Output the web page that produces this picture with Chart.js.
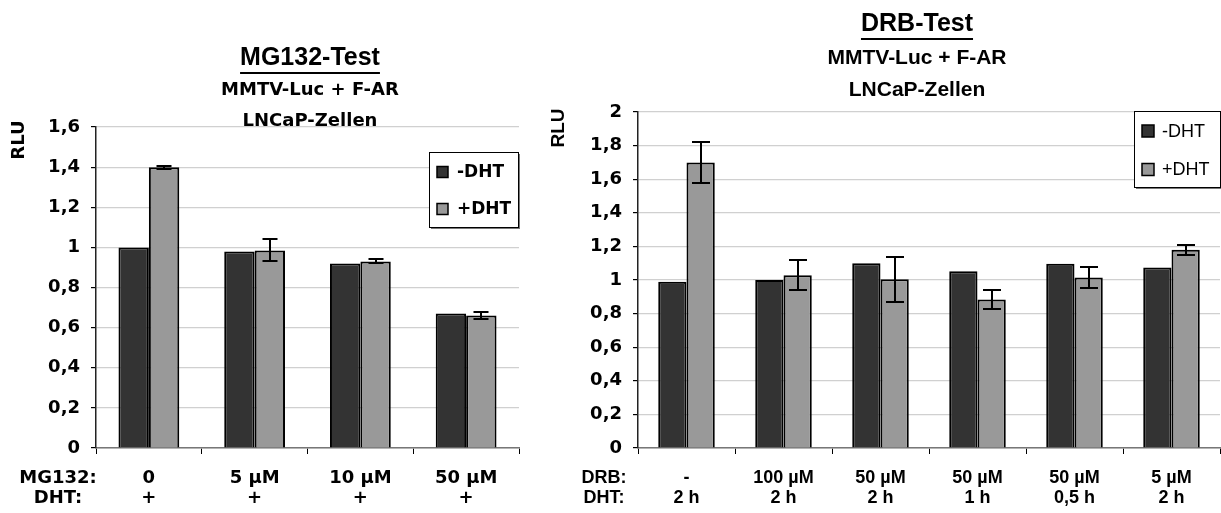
<!DOCTYPE html>
<html><head><meta charset="utf-8">
<script src="https://cdn.jsdelivr.net/npm/chart.js@4.4.1/dist/chart.umd.min.js"></script>
<style>
html,body{margin:0;padding:0;background:#fff;overflow:hidden}
#wrap{position:relative;width:1221px;height:513px}
#c1{position:absolute;left:0;top:0}
#c2{position:absolute;left:530px;top:0}
</style></head><body>
<div id="wrap">
<canvas id="c1" width="530" height="513"></canvas>
<canvas id="c2" width="691" height="513"></canvas>
</div>
<script>
// ---------- data ----------
const seriesNames = ['-DHT', '+DHT'];

const mgDose = ['0', '5 µM', '10 µM', '50 µM'];
const mgDht = ['+', '+', '+', '+'];
const mgMinus = [1.00, 0.98, 0.92, 0.67];
const mgPlus = [1.40, 0.985, 0.93, 0.66];
const mgPlusErr = [0.008, 0.055, 0.01, 0.018];
const mgRowHeads = ['MG132:', 'DHT:'];
const mgTitle = 'MG132-Test';
const mgSub = ['MMTV-Luc + F-AR', 'LNCaP-Zellen'];
const mgYMax = 1.6;

const drbDose = ['-', '100 µM', '50 µM', '50 µM', '50 µM', '5 µM'];
const drbDht = ['2 h', '2 h', '2 h', '1 h', '0,5 h', '2 h'];
const drbMinus = [0.99, 1.00, 1.10, 1.052, 1.097, 1.075];
const drbPlus = [1.70, 1.028, 1.004, 0.884, 1.015, 1.18];
const drbPlusErr = [0.12, 0.09, 0.132, 0.054, 0.062, 0.03];
const drbRowHeads = ['DRB:', 'DHT:'];
const drbTitle = 'DRB-Test';
const drbSub = ['MMTV-Luc + F-AR', 'LNCaP-Zellen'];
const drbYMax = 2;

const yTitle = 'RLU';
const yStep = 0.2;

// ---------- styling ----------
const ARIAL = "'Liberation Sans', Arial, Helvetica, sans-serif";
const WIDE = "'DejaVu Sans', Verdana, sans-serif";
const DARK = '#333333';
const LIGHT = '#999999';

function fmt(v) { return String(Math.round(v * 10) / 10).replace('.', ','); }

function annotPlugin(s) {
  return {
    id: 'annot',
    afterDatasetsDraw(chart) {
      const ctx = chart.ctx;
      const y = chart.scales.y;
      const meta = chart.getDatasetMeta(1);
      ctx.save();
      ctx.strokeStyle = '#000';
      ctx.lineWidth = 2;
      meta.data.forEach((bar, i) => {
        const v = chart.data.datasets[1].data[i];
        const e = chart.data.datasets[1].errors[i];
        const yt = Math.round(y.getPixelForValue(v + e)), yb = Math.round(y.getPixelForValue(v - e));
        const x = Math.round(bar.x), hw = s.cap / 2;
        ctx.beginPath();
        ctx.moveTo(x, yt); ctx.lineTo(x, yb);
        ctx.moveTo(x - hw, yt); ctx.lineTo(x + hw, yt);
        ctx.moveTo(x - hw, yb); ctx.lineTo(x + hw, yb);
        ctx.stroke();
      });
      ctx.restore();
    },
    afterDraw(chart) {
      const ctx = chart.ctx;
      ctx.save();
      ctx.fillStyle = '#000';
      ctx.textAlign = 'center';
      ctx.textBaseline = 'middle';
      // title (underlined)
      ctx.font = 'bold ' + s.titleSize + 'px ' + ARIAL;
      ctx.fillText(s.title, s.tx, s.ty);
      const w = ctx.measureText(s.title).width;
      ctx.fillRect(s.tx - w / 2, s.uy, w, 2);
      ctx.font = s.subFont;
      s.sub.forEach((t, i) => ctx.fillText(t, s.tx, s.sy[i]));
      // y title
      ctx.save();
      ctx.translate(s.rx, s.ry);
      ctx.rotate(-Math.PI / 2);
      ctx.font = s.rluFont;
      ctx.fillText(yTitle, 0, 0);
      ctx.restore();
      // row headers of the category table
      const xs = chart.scales.x;
      ctx.font = s.xFont;
      s.rows.forEach((t, i) => ctx.fillText(t, s.hx, xs.top + 6 + s.xPad + s.xLine / 2 + i * s.xLine));
      // legend box
      const L = s.leg;
      ctx.fillStyle = '#777';
      ctx.fillRect(L.x + 2, L.y + 2, L.w, L.h);
      ctx.fillStyle = '#fff';
      ctx.fillRect(L.x, L.y, L.w, L.h);
      ctx.strokeStyle = '#000';
      ctx.lineWidth = 1;
      ctx.strokeRect(L.x + 0.5, L.y + 0.5, L.w, L.h);
      ctx.textAlign = 'left';
      ctx.font = L.font;
      chart.data.datasets.forEach((ds, i) => {
        const cy = L.y + L.r0 + i * L.dr;
        ctx.fillStyle = ds.backgroundColor;
        ctx.fillRect(L.x + L.sx, cy - L.sq / 2, L.sq, L.sq);
        ctx.lineWidth = 1.5;
        ctx.strokeRect(L.x + L.sx, cy - L.sq / 2, L.sq, L.sq);
        ctx.fillStyle = '#000';
        ctx.fillText(ds.label, L.x + L.tx, cy + 1);
      });
      ctx.restore();
    }
  };
}

function makeChart(el, o) {
  return new Chart(el, {
    type: 'bar',
    data: {
      labels: o.dose.map((d, i) => [d, o.dht[i]]),
      datasets: [
        { label: seriesNames[0], data: o.minus, backgroundColor: DARK, borderColor: '#000', borderWidth: 2,
          categoryPercentage: o.catPct, barPercentage: 1 },
        { label: seriesNames[1], data: o.plus, errors: o.err, backgroundColor: LIGHT, borderColor: '#000', borderWidth: 2,
          categoryPercentage: o.catPct, barPercentage: 1 }
      ]
    },
    options: {
      responsive: false,
      animation: false,
      events: [],
      layout: { padding: o.pad },
      plugins: { legend: { display: false }, title: { display: false }, tooltip: { enabled: false } },
      scales: {
        x: {
          grid: { display: true, drawOnChartArea: false, drawTicks: true, tickLength: 6, color: '#000', offset: true },
          border: { display: true, color: '#777', width: 1.5 },
          ticks: { color: '#000', font: { family: o.xFamily, size: o.xSize, weight: 'bold', lineHeight: o.annot.xLine / o.xSize },
                   padding: o.annot.xPad, maxRotation: 0, autoSkip: false },
          afterFit: s => { s.height = 60; }
        },
        y: {
          min: 0, max: o.yMax,
          grid: { color: '#d0d0d0', lineWidth: 1.2, tickColor: '#000', tickLength: 5 },
          border: { display: true, color: '#222', width: 1.5 },
          ticks: { stepSize: yStep, color: '#000', font: { family: WIDE, size: 18, weight: 'bold' }, padding: o.yPad,
                   callback: v => fmt(v) },
          afterFit: s => { s.width = 60; }
        }
      }
    },
    plugins: [annotPlugin(o.annot)]
  });
}

makeChart(document.getElementById('c1'), {
  dose: mgDose, dht: mgDht, minus: mgMinus, plus: mgPlus, err: mgPlusErr, yMax: mgYMax, catPct: 0.575,
  xFamily: WIDE, xSize: 18, yPad: 11,
  pad: { left: 36, right: 11, top: 127, bottom: 5 },
  annot: {
    cap: 15, title: mgTitle, titleSize: 25, tx: 310, ty: 58, uy: 72, sub: mgSub,
    subFont: 'bold 18px ' + WIDE, sy: [90, 121],
    rx: 19, ry: 140, rluFont: 'bold 18px ' + WIDE, rows: mgRowHeads, hx: 58, xFont: 'bold 18px ' + WIDE, xLine: 20, xPad: 14,
    leg: { x: 429, y: 152, w: 89, h: 75, font: 'bold 17px ' + WIDE, r0: 20, dr: 37, sx: 8, sq: 11, tx: 28 }
  }
});

makeChart(document.getElementById('c2'), {
  dose: drbDose, dht: drbDht, minus: drbMinus, plus: drbPlus, err: drbPlusErr, yMax: drbYMax, catPct: 0.583,
  xFamily: ARIAL, xSize: 18, yPad: 11,
  pad: { left: 48, right: 1, top: 112, bottom: 5 },
  annot: {
    cap: 18, title: drbTitle, titleSize: 25, tx: 387, ty: 24, uy: 38, sub: drbSub,
    subFont: 'bold 21px ' + ARIAL, sy: [58, 90],
    rx: 29, ry: 128, rluFont: 'bold 19px ' + ARIAL, rows: drbRowHeads, hx: 74, xFont: 'bold 18px ' + ARIAL, xLine: 20, xPad: 14,
    leg: { x: 604, y: 111, w: 86, h: 76, font: '18px ' + ARIAL, r0: 20, dr: 38.5, sx: 8, sq: 12, tx: 28 }
  }
});
</script>
</body></html>
